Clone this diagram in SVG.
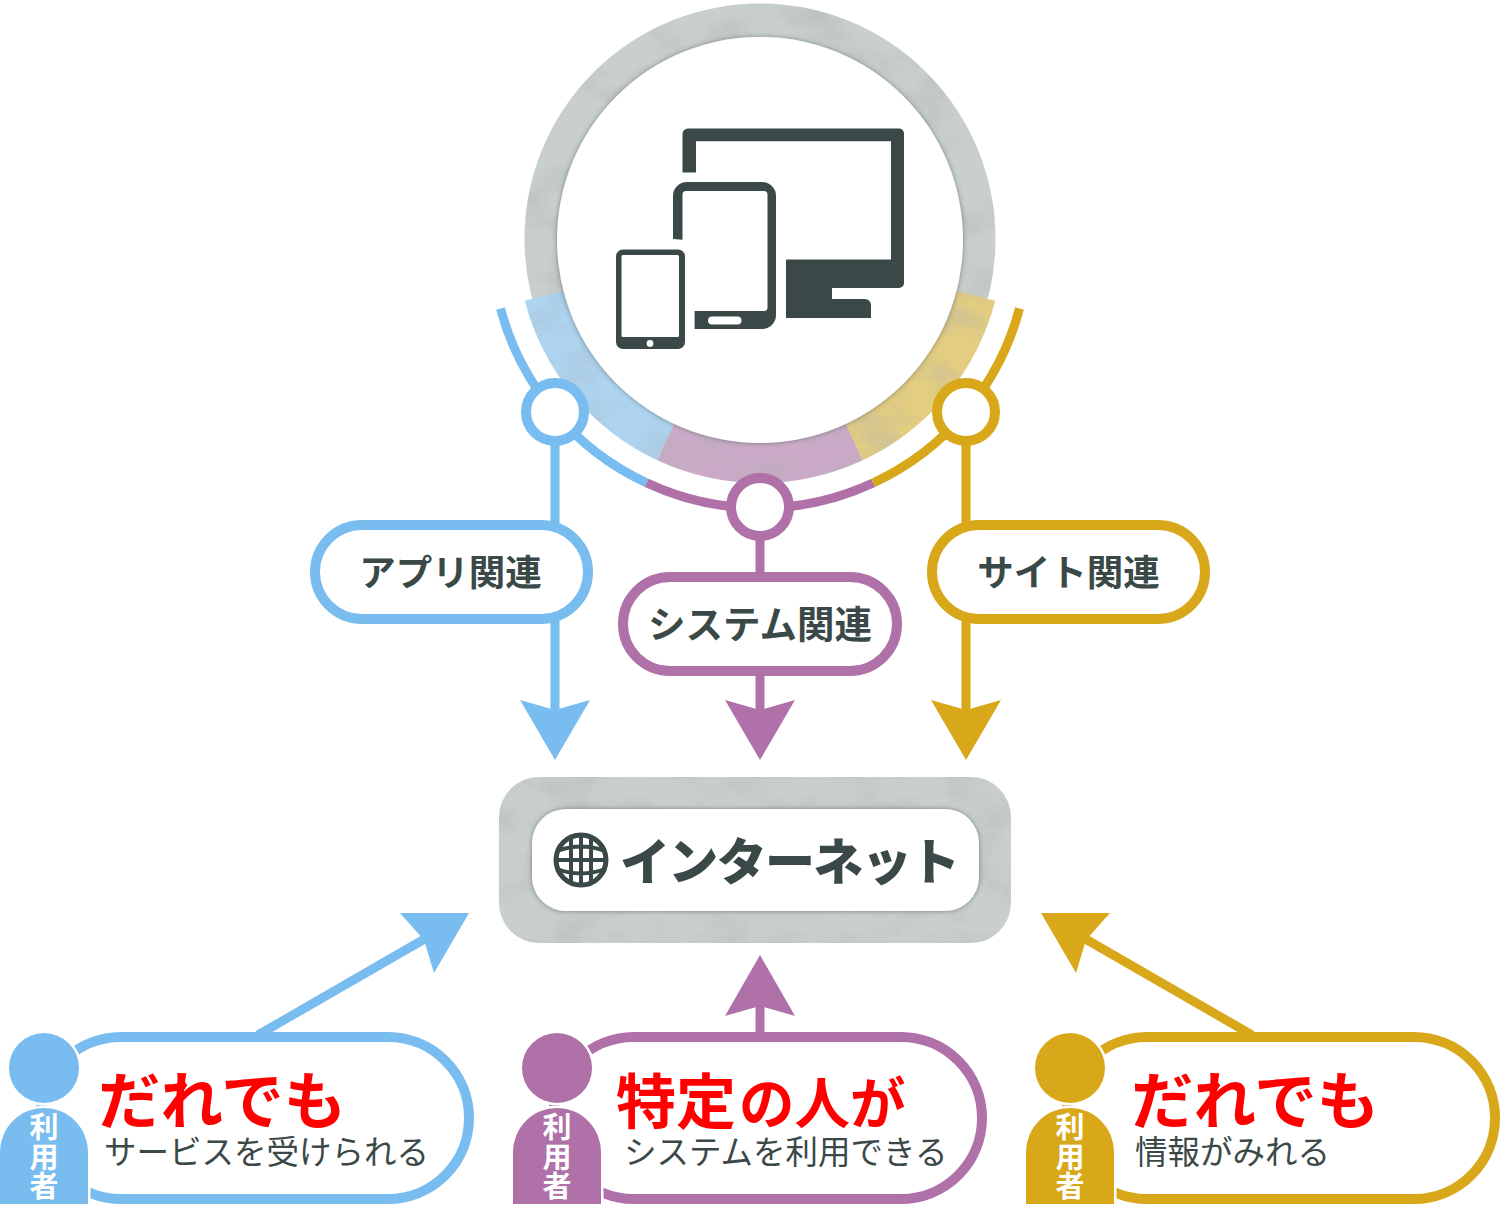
<svg xmlns="http://www.w3.org/2000/svg" xmlns:xlink="http://www.w3.org/1999/xlink" width="1500" height="1209" viewBox="0 0 1500 1209">
<style>
text{font-family:"Noto Sans CJK JP","Noto Sans",sans-serif;}
.dk{fill:#3a4947}
.lb{font-size:36.500px;font-weight:700;fill:#3a4947;text-anchor:middle}
.big{font-size:62.500px;font-weight:700;fill:#f00}
.md{font-size:60px}
.sm{font-size:55.500px}
.sub{font-size:32.500px;font-weight:400;fill:#3a4947}
.who{font-size:29px;font-weight:700;fill:#fff;text-anchor:middle}
.thin{fill:none;stroke-width:9}
.b{stroke:#78bcf0}.p{stroke:#b070a8}.y{stroke:#d8a81a}
.fb{fill:#78bcf0}.fp{fill:#b070a8}.fy{fill:#d8a81a}
.pill{fill:#fff;stroke-width:10}
.upill{fill:#fff;stroke-width:10}
.halo{stroke:#fff;stroke-width:5;paint-order:stroke}
.jn{fill:#fff;stroke-width:10}
</style>
<defs>
<filter id="marble" filterUnits="userSpaceOnUse" x="0" y="0" width="1500" height="1209">
<feTurbulence type="fractalNoise" baseFrequency="0.02 0.03" numOctaves="5" seed="7" result="n"/>
<feColorMatrix in="n" type="matrix" values="0 0 0 0 0.4  0 0 0 0 0.43  0 0 0 0 0.43  0.9 0 0 0 -0.37" result="c"/>
<feComposite in="c" in2="SourceAlpha" operator="in" result="t"/>
<feMerge><feMergeNode in="SourceGraphic"/><feMergeNode in="t"/></feMerge>
</filter>
<filter id="sh" x="-10%" y="-10%" width="120%" height="120%">
<feDropShadow dx="0" dy="0" stdDeviation="2.500" flood-color="#3a4947" flood-opacity="0.6"/>
</filter>
<g id="person">
<circle class="halo" cx="44" cy="1068" r="35"/>
<path class="halo" d="M0 1204V1152A44 44 0 0 1 88 1152V1204Z"/>
<text class="who" x="44" y="1138">利</text>
<text class="who" x="44" y="1168">用</text>
<text class="who" x="44" y="1197">者</text>
</g>
</defs>

<g id="hub">
<circle cx="760" cy="239" r="219" fill="none" stroke="#c9cfcf" stroke-width="33" filter="url(#marble)"/>
<path filter="url(#marble)" fill="#aed4f0" d="M524.800 300.800A243 243 0 0 0 657.300 460.200L674.200 424A203 203 0 0 1 563.500 290.800Z"/>
<path filter="url(#marble)" fill="#cbaac8" d="M657.300 460.200A243 243 0 0 0 862.700 460.200L845.800 424A203 203 0 0 1 674.200 424Z"/>
<path filter="url(#marble)" fill="#e3cd80" d="M995.200 300.800A243 243 0 0 1 862.700 460.200L845.800 424A203 203 0 0 0 956.500 290.800Z"/>
<circle cx="760" cy="240" r="203" fill="#fff" filter="url(#sh)"/>
<g class="dk">
<path d="M688 128.500H899A5 5 0 0 1 904 133.500V283A5 5 0 0 1 899 288H832V299H865A6 6 0 0 1 871 305V318H786V259.600H891V141.300H696V172.400H682.500V134A5.500 5.500 0 0 1 688 128.500Z"/>
<path fill-rule="evenodd" d="M687 182H762A14 14 0 0 1 776 196V315A14 14 0 0 1 762 329H694.600V311H764A3.500 3.500 0 0 0 767.500 307.500V194.500A3.500 3.500 0 0 0 764 191H686A3.500 3.500 0 0 0 682.500 194.500V239.800L673 239V196A14 14 0 0 1 687 182ZM712 316.500A4 4 0 0 0 712 324.500H737.500A4 4 0 0 0 737.500 316.500Z"/>
<path fill-rule="evenodd" d="M623 249.500H678A7 7 0 0 1 685 256.500V342A7 7 0 0 1 678 349H623A7 7 0 0 1 616 342V256.500A7 7 0 0 1 623 249.500ZM623 255A1.500 1.500 0 0 0 621.500 256.500V335.500A1.500 1.500 0 0 0 623 337H677.500A1.500 1.500 0 0 0 679 335.500V256.500A1.500 1.500 0 0 0 677.500 255ZM650 340A3.400 3.400 0 1 0 650 346.800A3.400 3.400 0 1 0 650 340Z"/>
</g>
</g>

<g id="connectors">
<path class="thin b" d="M500.500 308.500A268 268 0 0 0 646.700 482.900"/>
<path class="thin p" d="M646.700 482.900A268 268 0 0 0 873.300 482.900"/>
<path class="thin y" d="M1019.500 308.500A268 268 0 0 1 873.300 482.900"/>
<path class="thin b" d="M555 440V715"/>
<path class="thin p" d="M760 535V715"/>
<path class="thin y" d="M966 440V715"/>
<circle class="jn b" cx="555" cy="412" r="29"/>
<circle class="jn p" cx="760" cy="507" r="29"/>
<circle class="jn y" cx="966" cy="412" r="29"/>
<path class="fb" d="M555 760L520 700L555 710L590 700Z"/>
<path class="fp" d="M760 760L725 700L760 710L795 700Z"/>
<path class="fy" d="M966 760L931 700L966 710L1001 700Z"/>
<path class="thin b" d="M258 1035L428 937"/>
<path class="fb" d="M469 913H400L424 940L434 973Z"/>
<path class="thin p" d="M760 1035V1000"/>
<path class="fp" d="M760 955L725 1016L760 1006L795 1016Z"/>
<path class="thin y" d="M1252 1035L1082 937"/>
<path class="fy" d="M1041 913H1110L1086 940L1076 973Z"/>
</g>

<g id="label-app"><rect class="pill b" x="315" y="525" width="273" height="94" rx="47"/><text class="lb" x="450.500" y="586">アプリ関連</text></g>
<g id="label-system"><rect class="pill p" x="623" y="577" width="274" height="94" rx="47"/><text class="lb" x="760" y="638" style="font-size:37.500px">システム関連</text></g>
<g id="label-site"><rect class="pill y" x="932" y="525" width="273" height="94" rx="47"/><text class="lb" x="1068.500" y="586">サイト関連</text></g>

<g id="internet">
<rect x="499" y="777" width="512" height="166" rx="40" fill="#c9cfcf" filter="url(#marble)"/>
<rect x="532" y="809" width="447" height="102" rx="34" fill="#fff" filter="url(#sh)"/>
<g fill="none" stroke="#3a4947" stroke-width="4">
<circle cx="581" cy="860" r="25" stroke-width="5"/>
<path d="M571 836V884M581 835V885M591 836V884M557 851Q581 842 605 851M556 860H606M557 869Q581 878 605 869"/>
</g>
<text x="620" y="880" font-size="50" font-weight="900" class="dk" textLength="340" lengthAdjust="spacing">インターネット</text>
</g>

<g id="user-anyone-service">
<rect class="upill b" x="40" y="1037" width="429" height="162" rx="81"/>
<use href="#person" class="fb"/>
<text class="big" x="98" y="1124">だれでも</text>
<text class="sub" x="104" y="1164">サービスを受けられる</text>
</g>
<g id="user-specific">
<rect class="upill p" x="553" y="1037" width="429" height="162" rx="81"/>
<use href="#person" class="fp" x="513"/>
<text class="big" x="616" y="1124"><tspan class="md">特定</tspan><tspan class="sm" dx="3">の人</tspan><tspan class="sm">が</tspan></text>
<text class="sub" x="624" y="1164">システムを利用できる</text>
</g>
<g id="user-anyone-info">
<rect class="upill y" x="1066" y="1037" width="429" height="162" rx="81"/>
<use href="#person" class="fy" x="1026"/>
<text class="big" x="1131" y="1124">だれでも</text>
<text class="sub" x="1135" y="1164">情報がみれる</text>
</g>
</svg>
